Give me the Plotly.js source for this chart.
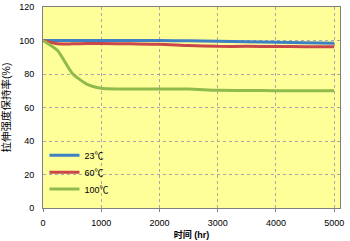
<!DOCTYPE html>
<html><head><meta charset="utf-8">
<script src="https://cdn.plot.ly/plotly-3.0.1.min.js"></script>
<style>html,body{margin:0;padding:0;background:#fff;}#chart{width:350px;height:241px;}</style>
</head><body><div id="chart"></div>
<script>
const hours = [0, 250, 500, 750, 1000, 1500, 2000, 2500, 3000, 3500, 4000, 4500, 5000];
const t23 = [100, 100, 100, 100, 100, 100, 100, 99.8, 99.5, 99.2, 99, 98.7, 98.4];
const t60 = [100, 98, 98, 98.2, 98.2, 98, 97.8, 97, 96.5, 96.5, 96.4, 96.3, 96.2];
const t100 = [100, 94, 80.5, 74, 71.5, 71, 71, 71, 70.3, 70.2, 70, 70, 70];
const names = ['23℃', '60℃', '100℃'];
const colors = ['#3f7fc4', '#c9474a', '#8fba4e'];
const series = [t23, t60, t100];
const legendIds = ['legend', 'legend2', 'legend3'];
const legendY = [0.262, 0.178, 0.094];
const font = "Arial, 'Liberation Sans', 'Noto Sans CJK SC', sans-serif";
const data = series.map((s, i) => ({
  x: hours, y: s, name: names[i], type: 'scatter', mode: 'lines', legend: legendIds[i],
  line: {color: colors[i], width: 3, shape: 'spline', smoothing: 0.6}
}));
const layout = {
  width: 350, height: 241,
  margin: {l: 43, r: 10, t: 7, b: 33},
  paper_bgcolor: '#ffffff', plot_bgcolor: '#ffff99',
  font: {family: font, size: 9, color: '#000'},
  showlegend: true,
  xaxis: {range: [0, 5100], tick0: 0, dtick: 1000, showgrid: true, gridcolor: '#a8a8a8', griddash: 'dot',
    zeroline: false, showline: true, mirror: true, linecolor: '#808080', linewidth: 1,
    ticks: 'outside', ticklen: 3, tickcolor: '#808080', ticklabelstandoff: 3,
    title: {text: '<b>时间 (hr)</b>', font: {family: font, size: 9}, standoff: 4}},
  yaxis: {range: [0, 120], tick0: 0, dtick: 20, showgrid: true, gridcolor: '#a8a8a8', griddash: 'dot',
    zeroline: false, showline: true, mirror: true, linecolor: '#808080', linewidth: 1,
    ticks: '', ticklabelstandoff: 6,
    title: {text: '拉伸强度保持率(%)', font: {family: font, size: 10.5}, standoff: 9}}
};
legendIds.forEach((id, i) => {
  layout[id] = {x: 0.005, y: legendY[i], xanchor: 'left', yanchor: 'middle', bgcolor: 'rgba(0,0,0,0)',
    font: {family: font, size: 9, color: '#000'}};
});
Plotly.newPlot('chart', data, layout, {displayModeBar: false, staticPlot: true});
</script></body></html>
